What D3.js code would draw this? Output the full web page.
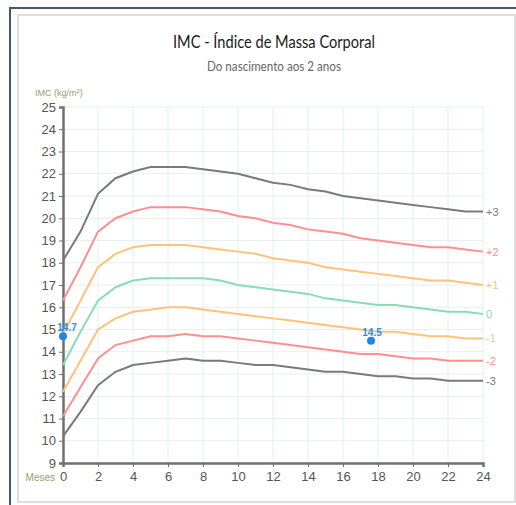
<!DOCTYPE html>
<html><head><meta charset="utf-8">
<script src="https://cdn.jsdelivr.net/npm/d3@7"></script>
<style>body{margin:0;background:#fff}svg{display:block}</style>
</head><body><svg id="c" width="516" height="505"></svg>
<script>
const months = d3.range(0, 25);
const sdM3 = [10.2,11.3,12.5,13.1,13.4,13.5,13.6,13.7,13.6,13.6,13.5,13.4,13.4,13.3,13.2,13.1,13.1,13.0,12.9,12.9,12.8,12.8,12.7,12.7,12.7];
const sdM2 = [11.1,12.4,13.7,14.3,14.5,14.7,14.7,14.8,14.7,14.7,14.6,14.5,14.4,14.3,14.2,14.1,14.0,13.9,13.9,13.8,13.7,13.7,13.6,13.6,13.6];
const sdM1 = [12.2,13.6,15.0,15.5,15.8,15.9,16.0,16.0,15.9,15.8,15.7,15.6,15.5,15.4,15.3,15.2,15.1,15.0,14.9,14.9,14.8,14.7,14.7,14.6,14.6];
const sd0  = [13.4,14.9,16.3,16.9,17.2,17.3,17.3,17.3,17.3,17.2,17.0,16.9,16.8,16.7,16.6,16.4,16.3,16.2,16.1,16.1,16.0,15.9,15.8,15.8,15.7];
const sdP1 = [14.8,16.3,17.8,18.4,18.7,18.8,18.8,18.8,18.7,18.6,18.5,18.4,18.2,18.1,18.0,17.8,17.7,17.6,17.5,17.4,17.3,17.2,17.2,17.1,17.0];
const sdP2 = [16.3,17.8,19.4,20.0,20.3,20.5,20.5,20.5,20.4,20.3,20.1,20.0,19.8,19.7,19.5,19.4,19.3,19.1,19.0,18.9,18.8,18.7,18.7,18.6,18.5];
const sdP3 = [18.1,19.4,21.1,21.8,22.1,22.3,22.3,22.3,22.2,22.1,22.0,21.8,21.6,21.5,21.3,21.2,21.0,20.9,20.8,20.7,20.6,20.5,20.4,20.3,20.3];
const curveLabels = ["+3","+2","+1","0","-1","-2","-3"];
const curveColors = ["#7a7a7a","#ff8f8f","#ffc27a","#88dcb6","#ffc27a","#ff8f8f","#7a7a7a"];
const curves = [sdP3, sdP2, sdP1, sd0, sdM1, sdM2, sdM3];
const pointMonths = [0, 17.6];
const pointValues = [14.7, 14.5];
const xTicks = d3.range(0, 25, 2);
const yTicks = d3.range(9, 26);

const svg = d3.select("#c");
// frame
svg.append("path").attr("d","M10,510 V8 H520").attr("fill","none").attr("stroke","#45566f").attr("stroke-width",2);
svg.append("rect").attr("x",18).attr("y",15).attr("width",497).attr("height",487)
  .attr("fill","#fff").attr("stroke","#dedede").attr("stroke-width",2);

const x = d3.scaleLinear().domain([0,24]).range([63,483]);
const y = d3.scaleLinear().domain([9,25]).range([463,107]);

// grid
svg.append("g").selectAll("line").data(yTicks).join("line")
  .attr("x1",63).attr("x2",483).attr("y1",d=>y(d)).attr("y2",d=>y(d))
  .attr("stroke","#e9eeee").attr("stroke-width",1);
svg.append("g").selectAll("line").data(xTicks).join("line")
  .attr("y1",107).attr("y2",463).attr("x1",d=>x(d)).attr("x2",d=>x(d))
  .attr("stroke","#e3f0ee").attr("stroke-width",1);

// axes
const fontAx = "'Liberation Sans Narrow','Liberation Sans',sans-serif";
const gy = svg.append("g").attr("transform","translate(63,0)")
  .call(d3.axisLeft(y).tickValues(yTicks).tickSize(4).tickPadding(3).tickFormat(d3.format("d")));
gy.select(".domain").attr("stroke","#707070").attr("stroke-width",2.5);
gy.selectAll(".tick line").attr("stroke","#707070");
gy.selectAll("text").attr("fill","#555").style("font-family",fontAx).style("font-size","13px");

const gx = svg.append("g").attr("transform","translate(0,463)")
  .call(d3.axisBottom(x).tickValues(xTicks).tickSize(4).tickPadding(5).tickFormat(d3.format("d")));
gx.select(".domain").attr("stroke","#707070").attr("stroke-width",2.5);
gx.selectAll(".tick line").attr("stroke","#707070");
gx.selectAll("text").attr("fill","#555").style("font-family",fontAx).style("font-size","13px");

// curves
const line = d3.line().x((d,i)=>x(months[i])).y(d=>y(d));
curves.forEach((c,k)=>{
  svg.append("path").datum(c).attr("d",line).attr("fill","none")
    .attr("stroke",curveColors[k]).attr("stroke-width",2);
  svg.append("text").attr("x",x(24)+3).attr("y",y(c[c.length-1])+4)
    .attr("fill",curveColors[k]).style("font-family",fontAx).style("font-size","11px")
    .text(curveLabels[k]);
});

// points
pointMonths.forEach((m,i)=>{
  svg.append("circle").attr("cx",x(m)).attr("cy",y(pointValues[i])).attr("r",4).attr("fill","#1e88e8");
  svg.append("text").attr("x",x(m)+(m===0?4:1)).attr("y",y(pointValues[i])-5).attr("text-anchor","middle")
    .attr("fill","#2b8ee6").style("font-family",fontAx).style("font-size","10px").style("font-weight","bold")
    .text(pointValues[i].toFixed(1));
});

// titles
svg.append("text").attr("x",274).attr("y",48).attr("text-anchor","middle")
  .attr("fill","#1a1a1a").style("font-family","Lato, sans-serif").style("font-size","18px")
  .attr("textLength",202).attr("lengthAdjust","spacingAndGlyphs")
  .text("IMC - Índice de Massa Corporal");
svg.append("text").attr("x",274).attr("y",71).attr("text-anchor","middle")
  .attr("fill","#666").style("font-family","Lato, sans-serif").style("font-size","13px")
  .attr("textLength",134).attr("lengthAdjust","spacingAndGlyphs")
  .text("Do nascimento aos 2 anos");
const yl = svg.append("text").attr("x",35).attr("y",96).attr("fill","#9e9a6a")
  .style("font-family",fontAx).style("font-size","9px");
yl.append("tspan").text("IMC (kg/m");
yl.append("tspan").attr("dy",-3).style("font-size","6px").text("2");
yl.append("tspan").attr("dy",3).text(")");
svg.append("text").attr("x",55).attr("y",481).attr("text-anchor","end").attr("fill","#9e9a6a")
  .style("font-family",fontAx).style("font-size","10px").text("Meses");
</script></body></html>
